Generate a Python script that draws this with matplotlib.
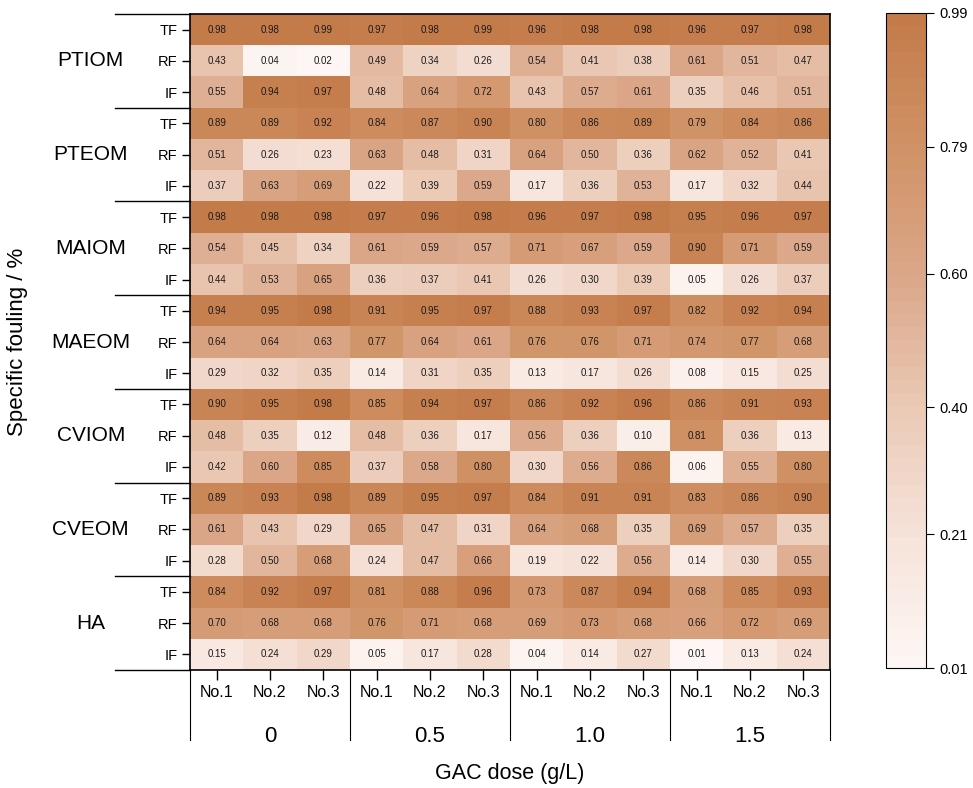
import numpy as np
import matplotlib
matplotlib.use('Agg')
import matplotlib.pyplot as plt
from matplotlib.colors import LinearSegmentedColormap
from matplotlib.transforms import blended_transform_factory

plt.rcParams['font.family'] = ['Liberation Sans', 'DejaVu Sans']

# Datos
grupos = ['PTIOM', 'PTEOM', 'MAIOM', 'MAEOM', 'CVIOM', 'CVEOM', 'HA']
tipos = ['TF', 'RF', 'IF']
dosis = ['0', '0.5', '1.0', '1.5']
muestras = ['No.1', 'No.2', 'No.3']

PTIOM = [[0.98, 0.98, 0.99, 0.97, 0.98, 0.99, 0.96, 0.98, 0.98, 0.96, 0.97, 0.98],
         [0.43, 0.04, 0.02, 0.49, 0.34, 0.26, 0.54, 0.41, 0.38, 0.61, 0.51, 0.47],
         [0.55, 0.94, 0.97, 0.48, 0.64, 0.72, 0.43, 0.57, 0.61, 0.35, 0.46, 0.51]]
PTEOM = [[0.89, 0.89, 0.92, 0.84, 0.87, 0.90, 0.80, 0.86, 0.89, 0.79, 0.84, 0.86],
         [0.51, 0.26, 0.23, 0.63, 0.48, 0.31, 0.64, 0.50, 0.36, 0.62, 0.52, 0.41],
         [0.37, 0.63, 0.69, 0.22, 0.39, 0.59, 0.17, 0.36, 0.53, 0.17, 0.32, 0.44]]
MAIOM = [[0.98, 0.98, 0.98, 0.97, 0.96, 0.98, 0.96, 0.97, 0.98, 0.95, 0.96, 0.97],
         [0.54, 0.45, 0.34, 0.61, 0.59, 0.57, 0.71, 0.67, 0.59, 0.90, 0.71, 0.59],
         [0.44, 0.53, 0.65, 0.36, 0.37, 0.41, 0.26, 0.30, 0.39, 0.05, 0.26, 0.37]]
MAEOM = [[0.94, 0.95, 0.98, 0.91, 0.95, 0.97, 0.88, 0.93, 0.97, 0.82, 0.92, 0.94],
         [0.64, 0.64, 0.63, 0.77, 0.64, 0.61, 0.76, 0.76, 0.71, 0.74, 0.77, 0.68],
         [0.29, 0.32, 0.35, 0.14, 0.31, 0.35, 0.13, 0.17, 0.26, 0.08, 0.15, 0.25]]
CVIOM = [[0.90, 0.95, 0.98, 0.85, 0.94, 0.97, 0.86, 0.92, 0.96, 0.86, 0.91, 0.93],
         [0.48, 0.35, 0.12, 0.48, 0.36, 0.17, 0.56, 0.36, 0.10, 0.81, 0.36, 0.13],
         [0.42, 0.60, 0.85, 0.37, 0.58, 0.80, 0.30, 0.56, 0.86, 0.06, 0.55, 0.80]]
CVEOM = [[0.89, 0.93, 0.98, 0.89, 0.95, 0.97, 0.84, 0.91, 0.91, 0.83, 0.86, 0.90],
         [0.61, 0.43, 0.29, 0.65, 0.47, 0.31, 0.64, 0.68, 0.35, 0.69, 0.57, 0.35],
         [0.28, 0.50, 0.68, 0.24, 0.47, 0.66, 0.19, 0.22, 0.56, 0.14, 0.30, 0.55]]
HA = [[0.84, 0.92, 0.97, 0.81, 0.88, 0.96, 0.73, 0.87, 0.94, 0.68, 0.85, 0.93],
      [0.70, 0.68, 0.68, 0.76, 0.71, 0.68, 0.69, 0.73, 0.68, 0.66, 0.72, 0.69],
      [0.15, 0.24, 0.29, 0.05, 0.17, 0.28, 0.04, 0.14, 0.27, 0.01, 0.13, 0.24]]

cbar_ticks = [0.01, 0.21, 0.40, 0.60, 0.79, 0.99]

datos = np.array(PTIOM + PTEOM + MAIOM + MAEOM + CVIOM + CVEOM + HA)
nfil, ncol = datos.shape

colores = [(0.0, '#fdf6f4'), (0.2, '#f6e2d9'), (0.4, '#eac8b4'),
           (0.6, '#dba789'), (0.8, '#d09266'), (1.0, '#c47b4a')]
cmap = LinearSegmentedColormap.from_list('gac', colores, N=50)

fig = plt.figure(figsize=(9.73, 7.88), dpi=100)
ax = fig.add_axes([190/973, 1-670/788, 640/973, 656/788])
cax = fig.add_axes([886/973, 1-668/788, 40/973, 655/788])

mapa = ax.pcolormesh(np.arange(ncol+1), np.arange(nfil+1), datos, cmap=cmap,
                     vmin=0.01, vmax=0.99)
ax.set_xlim(0, ncol)
ax.set_ylim(nfil, 0)

for i in range(nfil):
    for j in range(ncol):
        ax.text(j+0.5, i+0.5, f'{datos[i, j]:.2f}', ha='center', va='center',
                fontsize=7, color='#1a1a1a')

# ejes
ax.set_yticks(np.arange(nfil)+0.5)
ax.set_yticklabels(tipos*len(grupos), fontsize=10.5)
ax.set_xticks(np.arange(ncol)+0.5)
ax.set_xticklabels(muestras*len(dosis), fontsize=11.5)
ax.tick_params(axis='y', length=6, width=1, pad=3)
ax.tick_params(axis='x', length=7, width=1, pad=4)
for s in ax.spines.values():
    s.set_linewidth(1.2)

# etiquetas de grupo a la izquierda
trans_y = blended_transform_factory(ax.transAxes, ax.transData)
for k, g in enumerate(grupos):
    ax.text(-0.155, 3*k+1.5, g, transform=trans_y, ha='center', va='center',
            fontsize=15)
for k in range(len(grupos)+1):
    ax.plot([-0.117, 0], [3*k, 3*k], transform=trans_y, color='black',
            lw=1, clip_on=False)

# etiquetas de dosis abajo
trans_x = blended_transform_factory(ax.transData, ax.transAxes)
for k in range(len(dosis)+1):
    ax.plot([3*k, 3*k], [0, -0.107], transform=trans_x, color='black',
            lw=0.8, clip_on=False)
for k, d in enumerate(dosis):
    ax.text(3*k+1.5, -0.102, d, transform=trans_x, ha='center', va='center',
            fontsize=16)

ax.text(0.5, -0.158, 'GAC dose (g/L)', transform=ax.transAxes, ha='center',
        va='center', fontsize=15.5)
fig.text(18/973, 1-342/788, 'Specific fouling / %', rotation=90, ha='center',
         va='center', fontsize=16)

cb = fig.colorbar(mapa, cax=cax, ticks=cbar_ticks)
cb.ax.set_yticklabels([f'{t:.2f}' for t in cbar_ticks], fontsize=10.5)
cb.ax.tick_params(length=6, width=0.8)
cb.outline.set_linewidth(0.8)

plt.savefig('out.png', dpi=100)
